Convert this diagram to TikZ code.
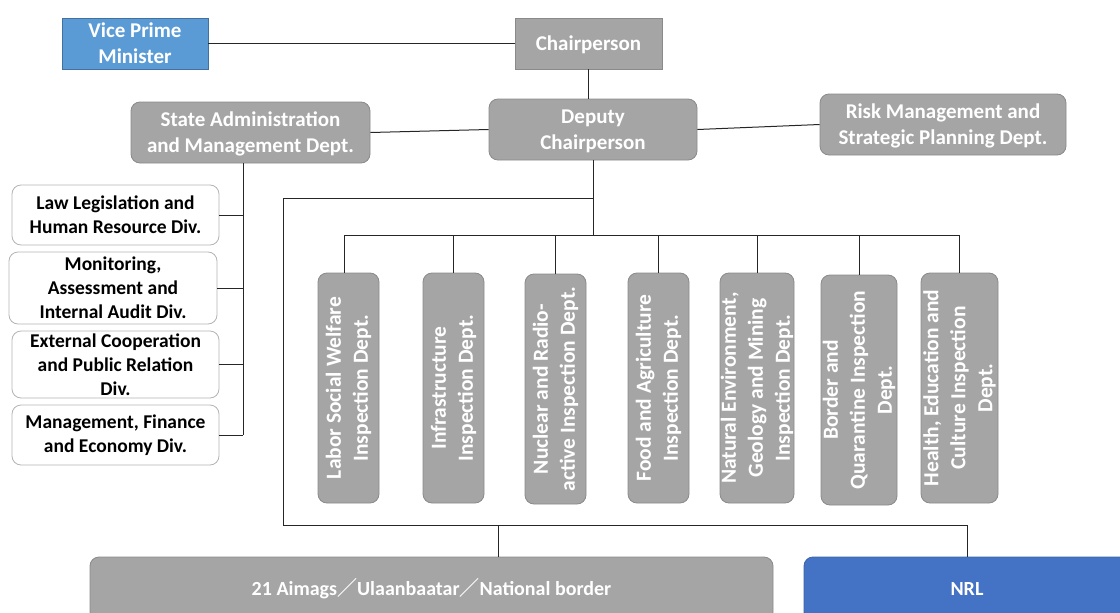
\documentclass[tikz,border=0pt]{standalone}
\usepackage{fontspec}
\setmainfont{Carlito}
\newfontfamily\cjkfont{Noto Sans CJK JP}
\usetikzlibrary{calc}

\definecolor{boxgray}{HTML}{A5A5A5}
\definecolor{edgegray}{HTML}{8A8A8A}
\definecolor{vpblue}{HTML}{5B9BD5}
\definecolor{vpedge}{HTML}{41719C}
\definecolor{nrlblue}{HTML}{4472C4}
\definecolor{nrledge}{HTML}{3A62AA}
\definecolor{divedge}{HTML}{B4B4B4}

\tikzset{
  base/.style={inner sep=0pt, align=center, font=\bfseries\fontsize{21}{26}\selectfont},
  graybox/.style={base, fill=boxgray, draw=edgegray, line width=0.8pt, text=white},
  roundgray/.style={graybox, rounded corners=9pt},
  lowtext/.style={text depth=0pt},
  bluebox/.style={base, fill=vpblue, draw=vpedge, line width=0.8pt, text=white},
  nrlbox/.style={base, fill=nrlblue, draw=nrledge, line width=0.8pt, text=white, rounded corners=9pt},
  divbox/.style={base, draw=divedge, fill=white, rounded corners=9pt,
                 font=\bfseries\fontsize{19.5}{24}\selectfont, line width=0.8pt},
  deptbox/.style={roundgray},
  depttext/.style={rotate=90, text=white, align=center, inner sep=0pt,
                   font=\bfseries\fontsize{21.5}{27}\selectfont},
  link/.style={draw=black!85, line width=1pt},
}

\begin{document}
\begin{tikzpicture}[x=1pt, y=-1pt]
\useasboundingbox (0,0) rectangle (1120,613);
\clip (0,0) rectangle (1120,613);

% top of the hierarchy
\node[bluebox, minimum width=146, minimum height=51] (vpm) at (135,43.5) {Vice Prime\\Minister};
\node[graybox, lowtext, minimum width=147, minimum height=51] (chair) at (588.5,43.5) {Chairperson};
\node[roundgray, lowtext, minimum width=208, minimum height=61] (dep) at (593,129.5) {Deputy\\Chairperson};
\node[roundgray, lowtext, minimum width=239, minimum height=61] (sam) at (250.5,132.5) {State Administration\\and Management Dept.};
\node[roundgray, lowtext, minimum width=246, minimum height=61] (risk) at (943,124.5) {Risk Management and\\Strategic Planning Dept.};

% divisions under the administration department
\node[divbox, minimum width=207, minimum height=60] (diva) at (115.5,215) {Law Legislation and\\Human Resource Div.};
\node[divbox, minimum width=208, minimum height=72] (divb) at (113,288) {Monitoring,\\Assessment and\\Internal Audit Div.};
\node[divbox, minimum width=207, minimum height=67] (divc) at (115.5,364.5) {External Cooperation\\and Public Relation\\Div.};
\node[divbox, minimum width=207, minimum height=60] (divd) at (115.5,435) {Management, Finance\\and Economy Div.};

% inspection departments
\node[deptbox, minimum width=61, minimum height=230] (d1) at (348.5,388) {};
\node[deptbox, minimum width=61, minimum height=230] (d2) at (453.5,388) {};
\node[deptbox, minimum width=61, minimum height=230] (d3) at (555.5,389) {};
\node[deptbox, minimum width=61, minimum height=230] (d4) at (658.5,388) {};
\node[deptbox, minimum width=74, minimum height=230] (d5) at (757,388) {};
\node[deptbox, minimum width=76, minimum height=230] (d6) at (859,390) {};
\node[deptbox, minimum width=77, minimum height=230] (d7) at (959.5,388) {};

\node[depttext] (t1) at (d1.center) {Labor Social Welfare\\Inspection Dept.};
\node[depttext] (t2) at (d2.center) {Infrastructure\\Inspection Dept.};
\node[depttext] (t3) at (d3.center) {Nuclear and Radio-\\active Inspection Dept.};
\node[depttext] (t4) at (d4.center) {Food and Agriculture\\Inspection Dept.};
\node[depttext] (t5) at (d5.center) {Natural Environment,\\Geology and Mining\\Inspection Dept.};
\node[depttext] (t6) at (d6.center) {Border and\\Quarantine Inspection\\Dept.};
\node[depttext] (t7) at (d7.center) {Health, Education and\\Culture Inspection\\Dept.};

% local level
\node[roundgray, minimum width=683, minimum height=64] (aim) at (431.5,589)
  {\fontsize{20}{24}\selectfont 21 Aimags{\cjkfont ／}Ulaanbaatar{\cjkfont ／}National border};
\node[nrlbox, minimum width=326, minimum height=64] (nrl) at (967,589) {\fontsize{20}{24}\selectfont NRL};

% routing points
\coordinate (bus) at (593,235);
\coordinate (lt) at (283,198);
\coordinate (lb) at (283,525);
\coordinate (adrop) at (498,525);
\coordinate (sp) at ($(sam.south)+(-7.5,0)$);

% connectors
\draw[link] (vpm.east) -- (chair.west);
\draw[link] (chair.south) -- (chair.south |- dep.north);
\draw[link] (sam.east) -- (dep.west);
\draw[link] (dep.east) -- (risk.west);
\draw[link] (dep.south) -- (dep.south |- bus);
\draw[link] ($(d1.north |- bus)+(-4,0)$) -- (d7.north |- bus);
\draw[link] ($(d1.north |- bus)+(-4,0)$) -- ($(d1.north)+(-4,0)$);
\foreach \i in {2,...,7} {
  \draw[link] (d\i.north |- bus) -- (d\i.north);
}
\draw[link] (dep.south |- lt) -- (lt) -- (lb) -- (lb -| nrl.north) -- (nrl.north);
\draw[link] (adrop) -- (adrop |- aim.north);

\draw[link] (sp) -- (sp |- divd.east);
\foreach \b in {diva,divb,divc,divd} {
  \draw[link] (\b.east) -- (\b.east -| sp);
}
\end{tikzpicture}
\end{document}
